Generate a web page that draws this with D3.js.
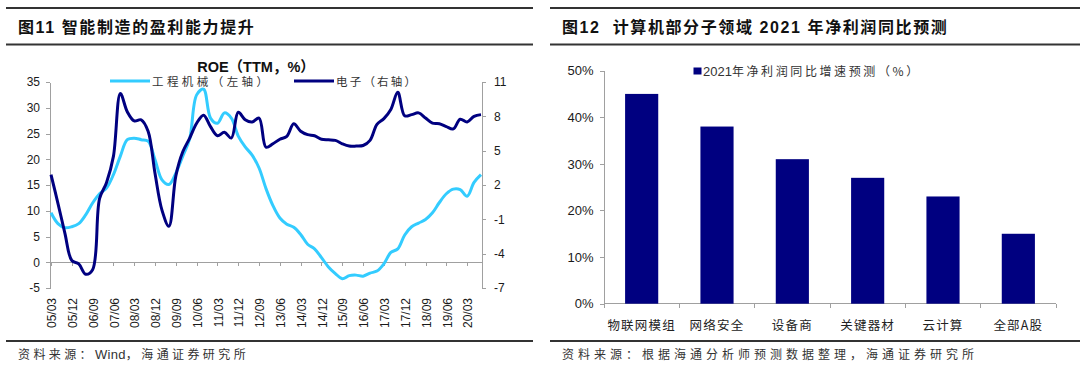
<!DOCTYPE html>
<html>
  <head>
    <meta charset="utf-8">
    <title>ROE and 2021 profit forecast</title>
    <script src="https://cdn.jsdelivr.net/npm/d3@7"></script>
    <style>
      body { margin: 0; background: #fff; }
      svg { display: block; font-family: "Liberation Sans", Arial, "Noto Sans CJK SC", sans-serif; }
      .cn { font-family: "Noto Sans CJK SC", sans-serif; }
      .axis path, .axis line { stroke: #a0a0a0; shape-rendering: crispEdges; }
      .axis text { fill: #1a1a1a; font-size: 12px; }
      .rule { stroke: #333; stroke-width: 1.8; }
    </style>
  </head>

  <body>
    <svg id="chart" width="1080" height="365"></svg>

    <script>
      // --- data: left chart (quarterly ROE, TTM) ---
      quarters = [
        "05/03","05/06","05/09","05/12","06/03","06/06","06/09","06/12",
        "07/03","07/06","07/09","07/12","08/03","08/06","08/09","08/12",
        "09/03","09/06","09/09","09/12","10/03","10/06","10/09","10/12",
        "11/03","11/06","11/09","11/12","12/03","12/06","12/09","12/12",
        "13/03","13/06","13/09","13/12","14/03","14/06","14/09","14/12",
        "15/03","15/06","15/09","15/12","16/03","16/06","16/09","16/12",
        "17/03","17/06","17/09","17/12","18/03","18/06","18/09","18/12",
        "19/03","19/06","19/09","19/12","20/03","20/06","20/09"
      ];
      tickLabels = [
        "05/03","05/12","06/09","07/06","08/03","08/12","09/09","10/06",
        "11/03","11/12","12/09","13/06","14/03","14/12","15/09","16/06",
        "17/03","17/12","18/09","19/06","20/03"
      ];
      // 工程机械, left axis
      machinery = [
        9.6, 7.5, 6.7, 6.9, 7.5, 9.2, 11.5, 13.3, 14.4, 17.0, 20.6, 23.8, 24.1,
        23.8, 23.5, 19.9, 16.0, 15.1, 17.3, 20.6, 24.0, 32.5, 33.6, 28.0, 27.0,
        29.0, 28.0, 24.5, 22.4, 20.8, 18.3, 14.3, 11.0, 8.6, 7.4, 6.8, 5.4, 3.5,
        2.6, 0.9, -0.9, -2.2, -3.2, -2.6, -2.5, -2.7, -2.1, -1.7, -0.3, 1.9, 2.6,
        5.3, 6.9, 7.6, 8.3, 9.6, 11.6, 13.3, 14.2, 14.1, 12.8, 15.5, 17.0
      ];
      // 电子, right axis
      electronics = [
        2.9, 0.4, -2.2, -4.6, -4.9, -5.8, -5.4, 0.8, 2.2, 4.5, 10.0, 8.4, 7.6,
        7.7, 6.7, 3.0, -0.2, -1.6, 2.8, 4.9, 6.1, 7.4, 8.1, 7.1, 6.3, 6.6, 6.1,
        8.35, 7.7, 7.5, 7.85, 5.3, 5.6, 6.0, 6.25, 7.35, 6.7, 6.4, 6.3, 6.0,
        5.95, 5.9, 5.6, 5.4, 5.4, 5.45, 5.9, 7.3, 7.8, 8.6, 10.1, 8.05, 8.15,
        8.3, 7.85, 7.4, 7.35, 7.1, 6.9, 7.75, 7.5, 8.0, 8.15
      ];
      leftTicks = [-5, 0, 5, 10, 15, 20, 25, 30, 35];
      rightTicks = [-7, -4, -1, 2, 5, 8, 11];

      // --- data: right chart (2021 net profit growth forecast) ---
      sectors = ["物联网模组", "网络安全", "设备商", "关键器材", "云计算", "全部A股"];
      growth = [0.45, 0.38, 0.31, 0.27, 0.23, 0.15];
      pctTicks = [0, 0.1, 0.2, 0.3, 0.4, 0.5];

      lightBlue = "#33CCFF";
      navy = "#000080";
      plain = function(d) { return String(d); }; // keep ASCII hyphen for negatives

      svg = d3.select("#chart");

      // --- page frame: rules, titles, sources ---
      function frame(x0, x1, title, sourceParts, spacing) {
        svg.append("line").attr("class", "rule")
          .attr("x1", x0).attr("x2", x1).attr("y1", 8).attr("y2", 8);
        svg.append("line").attr("class", "rule")
          .attr("x1", x0).attr("x2", x1).attr("y1", 44.5).attr("y2", 44.5);
        svg.append("line").attr("class", "rule")
          .attr("x1", x0).attr("x2", x1).attr("y1", 341).attr("y2", 341);
        svg.append("text")
          .attr("x", x0 + 12).attr("y", 33)
          .style("font-size", "16px").style("font-weight", "bold")
          .style("letter-spacing", "1.6px").style("white-space", "pre")
          .attr("fill", "#111")
          .text(title);
        src = svg.append("text").attr("class", "cn")
          .attr("x", x0 + 12).attr("y", 359)
          .style("font-size", "12px").attr("fill", "#333");
        sourceParts.forEach(function(p) {
          src.append("tspan")
            .style("letter-spacing", p.latin ? "0.3px" : spacing + "px")
            .style("font-family", p.latin ? "'Liberation Sans', Arial" : null)
            .style("font-size", p.latin ? "13px" : null)
            .text(p.text);
        });
      }
      frame(6, 533, "图11 智能制造的盈利能力提升",
        [{ text: "资料来源：" }, { text: "Wind", latin: true }, { text: "，海通证券研究所" }], 3.4);
      frame(550, 1080, "图12  计算机部分子领域 2021 年净利润同比预测",
        [{ text: "资料来源：根据海通分析师预测数据整理，海通证券研究所" }], 4);

      // --- left chart ---
      x = d3.scalePoint().domain(quarters).range([51, 481]);
      yL = d3.scaleLinear().domain([-5, 35]).range([288, 82]);
      yR = d3.scaleLinear().domain([-7, 11]).range([288, 82]);

      left = svg.append("g");

      left.append("g").attr("class", "axis")
        .attr("transform", "translate(50,0)")
        .call(d3.axisLeft(yL).tickValues(leftTicks).tickFormat(plain)
          .tickSize(4).tickSizeOuter(0).tickPadding(6));
      left.append("g").attr("class", "axis")
        .attr("transform", "translate(482,0)")
        .call(d3.axisRight(yR).tickValues(rightTicks).tickFormat(plain)
          .tickSize(4).tickSizeOuter(0).tickPadding(8));

      xAxis = left.append("g").attr("class", "axis")
        .attr("transform", "translate(0," + yL(0) + ")")
        .call(d3.axisBottom(x).tickValues(tickLabels).tickSize(4).tickSizeOuter(0).tickFormat(""));
      xAxis.select(".domain").attr("d", "M50,0H482");

      left.append("g").selectAll("text")
        .data(tickLabels)
      .enter().append("text")
        .attr("transform", function(d) { return "translate(" + (x(d) + 1) + ",298) rotate(-90)"; })
        .attr("text-anchor", "end")
        .attr("dy", "0.35em")
        .style("font-size", "12px")
        .attr("fill", "#1a1a1a")
        .text(function(d) { return d; });

      lineL = d3.line()
        .x(function(d, i) { return x(quarters[i]); })
        .y(function(d) { return yL(d); })
        .curve(d3.curveCatmullRom.alpha(0.5));
      lineR = d3.line()
        .x(function(d, i) { return x(quarters[i]); })
        .y(function(d) { return yR(d); })
        .curve(d3.curveCatmullRom.alpha(0.5));

      left.append("path").datum(machinery)
        .attr("d", lineL).attr("fill", "none")
        .attr("stroke", lightBlue).attr("stroke-width", 3).attr("stroke-linejoin", "round");
      left.append("path").datum(electronics)
        .attr("d", lineR).attr("fill", "none")
        .attr("stroke", navy).attr("stroke-width", 3).attr("stroke-linejoin", "round");

      // title and legend
      left.append("text")
        .attr("x", 256).attr("y", 72)
        .attr("text-anchor", "middle")
        .style("font-size", "14.5px").style("font-weight", "bold")
        .attr("fill", "#111")
        .text("ROE（TTM，%）");

      legendL = [
        { name: "工程机械（左轴）", color: lightBlue, x: 110, len: 116 },
        { name: "电子（右轴）", color: navy, x: 294, len: 80 }
      ];
      legendL.forEach(function(d) {
        left.append("line")
          .attr("x1", d.x).attr("x2", d.x + 40).attr("y1", 81).attr("y2", 81)
          .attr("stroke", d.color).attr("stroke-width", 3);
        left.append("text").attr("class", "cn")
          .attr("x", d.x + 42).attr("y", 85.5)
          .style("font-size", "11.5px").attr("fill", "#333")
          .attr("textLength", d.len).attr("lengthAdjust", "spacing")
          .text(d.name);
      });

      // --- right chart ---
      xB = d3.scaleBand().domain(sectors).range([604, 1056])
        .paddingInner(0.56).paddingOuter(0.28);
      yB = d3.scaleLinear().domain([0, 0.5]).range([303.7, 70.6]);

      right = svg.append("g");

      right.append("g").attr("class", "axis")
        .attr("transform", "translate(603.5,0)")
        .call(d3.axisLeft(yB).tickValues(pctTicks).tickFormat(d3.format(".0%"))
          .tickSize(4).tickSizeOuter(0).tickPadding(6))
        .selectAll("text").style("font-size", "13px");

      baseAxis = right.append("g").attr("class", "axis")
        .attr("transform", "translate(0," + yB(0) + ")");
      baseAxis.append("path").attr("d", "M603.5,0H1056").attr("fill", "none");
      baseAxis.selectAll(".tick")
        .data(d3.range(sectors.length + 1))
      .enter().append("line")
        .attr("x1", function(k) { return xB.range()[0] + k * xB.step(); })
        .attr("x2", function(k) { return xB.range()[0] + k * xB.step(); })
        .attr("y1", 0).attr("y2", 4);

      right.append("g").selectAll("rect")
        .data(growth)
      .enter().append("rect")
        .attr("x", function(d, i) { return xB(sectors[i]); })
        .attr("y", function(d) { return yB(d); })
        .attr("width", xB.bandwidth())
        .attr("height", function(d) { return yB(0) - yB(d); })
        .attr("fill", navy);

      right.append("g").selectAll("text")
        .data(sectors)
      .enter().append("text").attr("class", "cn")
        .attr("x", function(d) { return xB(d) + xB.bandwidth() / 2; })
        .attr("y", 329.5)
        .attr("text-anchor", "middle")
        .style("font-size", "12.5px").style("letter-spacing", "1.2px")
        .attr("fill", "#222")
        .text(function(d) { return d; });

      // legend
      right.append("rect")
        .attr("x", 693.5).attr("y", 67.5).attr("width", 8).attr("height", 7)
        .attr("fill", navy);
      legendB = right.append("text")
        .attr("x", 703).attr("y", 76)
        .attr("fill", "#333");
      legendB.append("tspan").style("font-size", "13px").text("2021");
      legendB.append("tspan").attr("class", "cn")
        .style("font-size", "12px").style("letter-spacing", "2.6px")
        .text("年净利润同比增速预测（%）");
    </script>
  </body>
</html>
